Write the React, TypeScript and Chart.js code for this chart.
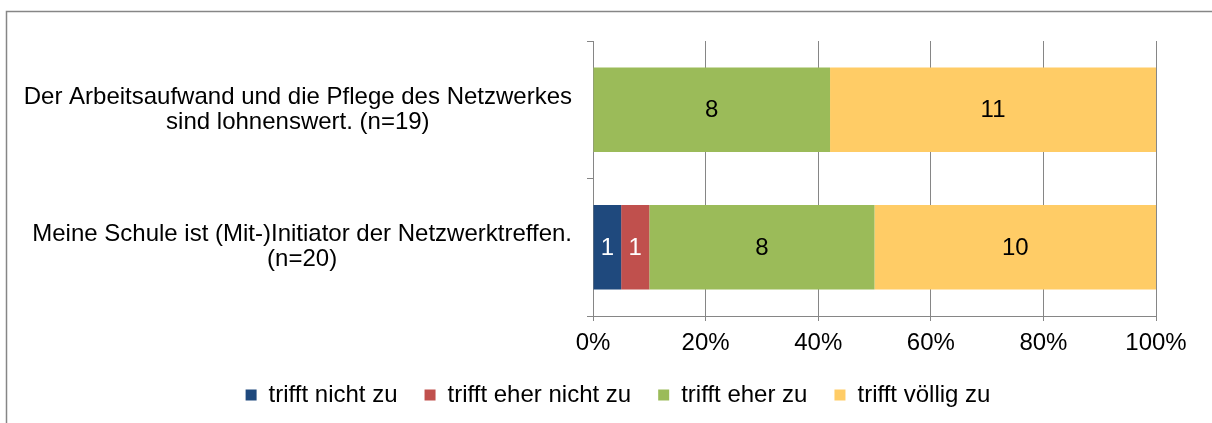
import React, { useEffect, useRef } from 'react';
import { Chart, registerables } from 'chart.js';

Chart.register(...registerables);

const categories: string[][] = [
  ['Der Arbeitsaufwand und die Pflege des Netzwerkes', 'sind lohnenswert. (n=19)'],
  ['Meine Schule ist (Mit-)Initiator der Netzwerktreffen.', '(n=20)'],
];
const seriesNames = ['trifft nicht zu', 'trifft eher nicht zu', 'trifft eher zu', 'trifft völlig zu'];
const trifftNichtZu = [0, 1];
const trifftEherNichtZu = [0, 1];
const trifftEherZu = [8, 8];
const trifftVoelligZu = [11, 10];
const seriesColors = ['#1F497D', '#C0504D', '#9BBB59', '#FFCC66'];
const labelColors = ['#FFFFFF', '#FFFFFF', '#000000', '#000000'];
const xTickValues = [0, 20, 40, 60, 80, 100];

const FONT = '"Liberation Sans", Arial, sans-serif';
const FS = 24;
const LINE_H = 25;
const GRID = '#868686';

export default function App() {
  const ref = useRef<HTMLCanvasElement | null>(null);

  useEffect(() => {
    if (!ref.current) return;
    const counts = [trifftNichtZu, trifftEherNichtZu, trifftEherZu, trifftVoelligZu];
    const totals = categories.map((_, i) => counts.reduce((s, arr) => s + arr[i], 0));

    const datasets = counts.map((arr, k) => ({
      label: seriesNames[k],
      data: arr.map((v, i) => (v / totals[i]) * 100),
      counts: arr,
      backgroundColor: seriesColors[k],
      borderWidth: 0,
      barPercentage: 0.613,
      categoryPercentage: 1,
    }));

    const frame = {
      id: 'frame',
      beforeDraw(chart: any) {
        const ctx = chart.ctx;
        ctx.save();
        ctx.strokeStyle = GRID;
        ctx.lineWidth = 1.5;
        ctx.beginPath();
        ctx.moveTo(6.5, chart.height + 5);
        ctx.lineTo(6.5, 11.5);
        ctx.lineTo(chart.width + 5, 11.5);
        ctx.stroke();
        ctx.restore();
      },
    };

    const categoryLabels = {
      id: 'categoryLabels',
      afterDraw(chart: any) {
        const ctx = chart.ctx;
        const scale = chart.scales.y;
        ctx.save();
        ctx.font = `${FS}px ${FONT}`;
        ctx.fillStyle = '#000';
        ctx.textAlign = 'center';
        ctx.textBaseline = 'middle';
        const right = scale.right - 21;
        (chart.data.labels as string[][]).forEach((lines, i) => {
          const y = scale.getPixelForTick(i);
          const w = Math.max(...lines.map((l) => ctx.measureText(l).width));
          const cx = right - w / 2;
          const y0 = y - ((lines.length - 1) * LINE_H) / 2;
          lines.forEach((l, j) => ctx.fillText(l, cx, y0 + j * LINE_H));
        });
        ctx.restore();
      },
    };

    const dataLabels = {
      id: 'dataLabels',
      afterDatasetsDraw(chart: any) {
        const ctx = chart.ctx;
        ctx.save();
        ctx.font = `${FS}px ${FONT}`;
        ctx.textAlign = 'center';
        ctx.textBaseline = 'middle';
        chart.data.datasets.forEach((ds: any, k: number) => {
          const meta = chart.getDatasetMeta(k);
          meta.data.forEach((el: any, i: number) => {
            const c = ds.counts[i];
            if (!c) return;
            const x = (el.x + el.base) / 2;
            ctx.fillStyle = labelColors[k];
            ctx.fillText(String(c), x, el.y + 1);
          });
        });
        ctx.restore();
      },
    };

    const chart = new Chart(ref.current, {
      type: 'bar',
      data: { labels: categories, datasets: datasets as any },
      options: {
        indexAxis: 'y',
        animation: false,
        responsive: false,
        maintainAspectRatio: false,
        layout: { padding: { left: 80, right: 56, top: 41, bottom: 6 } },
        scales: {
          x: {
            stacked: true,
            min: 0,
            max: 100,
            afterBuildTicks(scale: any) {
              scale.ticks = xTickValues.map((v) => ({ value: v }));
            },
            afterFit(scale: any) {
              scale.height = 40;
            },
            ticks: {
              color: '#000',
              font: { family: FONT, size: FS, lineHeight: 1.05 },
              padding: 10,
              callback: (v: any) => `${v}%`,
              maxRotation: 0,
            },
            grid: { color: GRID, tickLength: 5, drawOnChartArea: true, lineWidth: 1 },
            border: { display: true, color: GRID, width: 1 },
          },
          y: {
            stacked: true,
            afterFit(scale: any) {
              scale.width = 593 - 80;
            },
            ticks: { display: false },
            grid: { offset: true, drawOnChartArea: false, drawTicks: true, tickLength: 6, color: GRID },
            border: { display: true, color: GRID, width: 1 },
          },
        },
        plugins: {
          legend: {
            position: 'bottom',
            labels: {
              boxWidth: 11,
              boxHeight: 11,
              padding: 27,
              color: '#000',
              font: { family: FONT, size: FS },
            },
          },
          tooltip: { enabled: false },
        },
      },
      plugins: [frame, categoryLabels, dataLabels],
    });
    return () => chart.destroy();
  }, []);

  return (
    <div style={{ position: 'absolute', left: 0, top: 0, width: 1212, height: 423, background: '#fff' }}>
      <canvas ref={ref} width={1212} height={423} style={{ display: 'block', width: 1212, height: 423 }} />
    </div>
  );
}
